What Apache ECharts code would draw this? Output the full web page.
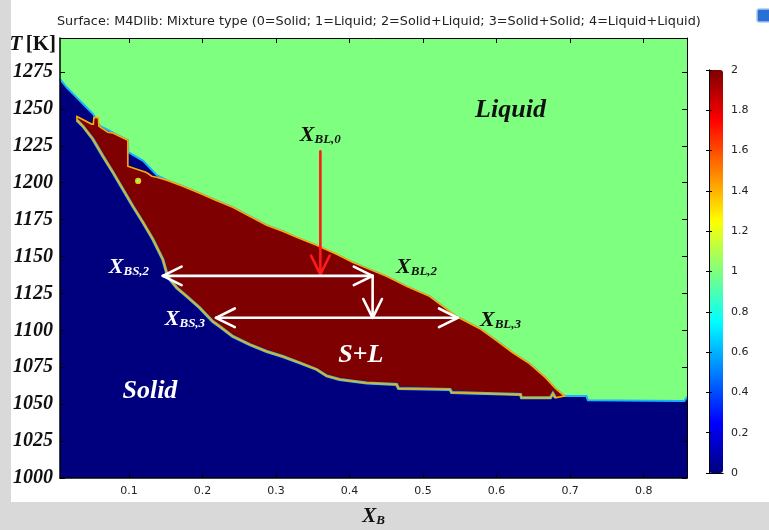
<!DOCTYPE html>
<html>
<head>
<meta charset="utf-8">
<script src="https://cdn.jsdelivr.net/npm/echarts@6/dist/echarts.min.js"></script>
<style>
  html, body { margin: 0; padding: 0; background: #d9d9d9; }
  #chart { width: 769px; height: 530px; }
</style>
</head>
<body>
<div id="chart"></div>
<script>
// Axis extents of the phase map
const xRange = [0.006, 0.859];
const tRange = [1000, 1298];

// Tick values
const xTicks = [0.1, 0.2, 0.3, 0.4, 0.5, 0.6, 0.7, 0.8];
const tTicks = [1000, 1025, 1050, 1075, 1100, 1125, 1150, 1175, 1200, 1225, 1250, 1275];
const barTicks = [0, 0.2, 0.4, 0.6, 0.8, 1, 1.2, 1.4, 1.6, 1.8, 2];

// Mixture type codes
const LIQUID = 1, SOLID = 0, SOLID_LIQUID = 2;

// Upper edge of the solid field, left of the two-phase wedge  [X_B, T]
const solidCap = [
  [0.006, 1270.2], [0.0150, 1264.6], [0.0285, 1257.8], [0.0398, 1252.1],
  [0.0511, 1246.5], [0.0602, 1238.5], [0.0738, 1235.1], [0.0847, 1232.2],
  [0.0983, 1228.8], [0.0990, 1220.7], [0.1191, 1214.8], [0.1377, 1205.1]
];

// Liquidus: upper edge of the S+L field  [X_B, T]
const liquidus = [
  [0.1513, 1201.7], [0.1730, 1197.6], [0.1961, 1192.9], [0.2179, 1188.1],
  [0.2410, 1183.4], [0.2641, 1177.3], [0.2872, 1171.2], [0.3090, 1167.1],
  [0.3280, 1163.0], [0.3552, 1157.6], [0.3824, 1151.5], [0.4041, 1146.1],
  [0.4272, 1141.3], [0.4503, 1136.6], [0.4775, 1129.8], [0.5088, 1123.0],
  [0.5455, 1109.4], [0.5767, 1101.3], [0.5998, 1093.1], [0.6216, 1085.0],
  [0.6447, 1077.5], [0.6665, 1068.0], [0.6800, 1060.6], [0.6923, 1055.5]
];

// Solid / liquid edge right of the wedge  [X_B, T]
const solidTail = [
  [0.7222, 1055.5], [0.7242, 1052.6], [0.8554, 1052.1], [0.859, 1055.0]
];

// Top-left corner of the S+L field  [X_B, T]
const wedgeHead = [
  [0.0290, 1244.8], [0.0489, 1239.7], [0.0514, 1239.7], [0.0521, 1244.1],
  [0.0582, 1244.1], [0.0589, 1238.3], [0.0616, 1237.3], [0.0711, 1234.2],
  [0.0779, 1233.6], [0.0983, 1228.8], [0.0983, 1211.2], [0.1237, 1206.9],
  [0.1309, 1204.4], [0.1377, 1203.7]
];

// Solidus and lower edge of the S+L field, right to left  [X_B, T]
const solidus = [
  [0.6800, 1054.3], [0.6766, 1057.2], [0.6732, 1054.3], [0.6338, 1054.3],
  [0.6325, 1056.5], [0.5387, 1057.9], [0.5366, 1059.9], [0.4666, 1060.6],
  [0.4639, 1063.3], [0.4231, 1064.3], [0.3864, 1066.7], [0.3688, 1069.1],
  [0.3552, 1073.5], [0.3321, 1078.0], [0.3090, 1082.3], [0.2872, 1085.7],
  [0.2641, 1090.4], [0.2410, 1095.9], [0.2233, 1102.6], [0.2138, 1106.0],
  [0.1961, 1115.2], [0.1785, 1123.0], [0.1649, 1128.8], [0.1554, 1134.5],
  [0.1513, 1138.6], [0.1458, 1148.1], [0.1323, 1161.7], [0.1187, 1173.2],
  [0.1051, 1184.1], [0.0915, 1195.6], [0.0779, 1207.1], [0.0643, 1218.0],
  [0.0507, 1229.5], [0.0371, 1238.3], [0.0290, 1242.4]
];

// Isolated liquid cell inside the wedge
const liquidSpot = [[0.1123, 1201.2]];

// Cooling path of the initial melt: [x1, T1, x2, T2, headAtStart, headAtEnd]
const coolingPath = [[0.3602, 1221.2, 0.3602, 1137.9, 0, 1]];

// Tie lines and the step between them
const tieLines = [
  [0.1458, 1136.9, 0.4313, 1136.9, 1, 1],
  [0.4313, 1136.9, 0.4313, 1108.5, 0, 1],
  [0.2182, 1108.5, 0.5472, 1108.5, 1, 1]
];

// Labelled compositions: [subscript, X_B, T]
const compLabels = [
  ['BL,0', 0.3602, 1232.2],
  ['BS,2', 0.0998, 1142.7],
  ['BL,2', 0.4911, 1142.7],
  ['BS,3', 0.1760, 1107.4],
  ['BL,3', 0.6053, 1106.7]
];

// Phase field names: [text, X_B, T]
const fieldLabels = [
  ['Liquid', 0.6189, 1249.2],
  ['Solid', 0.1283, 1058.5],
  ['S+L', 0.4151, 1083.0]
];

const jet = ['#00007f', '#0000ff', '#007fff', '#00ffff', '#7fff7f',
             '#ffff00', '#ff7f00', '#ff0000', '#7f0000'];

const serif = "'Liberation Serif', 'DejaVu Serif', serif";
const sans = "'DejaVu Sans', sans-serif";

// Field outlines, drawn in order: liquid background, solid, two-phase
const fields = [
  {
    code: LIQUID,
    outline: [[xRange[0], tRange[0]], [xRange[1], tRange[0]], [xRange[1], tRange[1]], [xRange[0], tRange[1]]],
    edges: []
  },
  {
    code: SOLID,
    outline: solidCap.concat(liquidus, solidTail, [[xRange[1], tRange[0]], [xRange[0], tRange[0]]]),
    edges: [{ pts: solidCap.concat(liquidus, solidTail), color: '#18b4ff', width: 2, closed: false }]
  },
  {
    code: SOLID_LIQUID,
    outline: wedgeHead.concat(liquidus, solidus),
    edges: [
      { pts: solidus, color: '#22c8ff', width: 3, closed: false },
      { pts: wedgeHead.concat(liquidus, solidus), color: '#ffaa00', width: 1.6, closed: true }
    ]
  }
];

function project(api, pts) {
  return pts.map(function (p) { return api.coord(p); });
}

function renderField(params, api) {
  const f = fields[params.dataIndex];
  const children = [{
    type: 'polygon',
    shape: { points: project(api, f.outline) },
    style: { fill: api.visual('color') }
  }];
  f.edges.forEach(function (e) {
    children.push({
      type: e.closed ? 'polygon' : 'polyline',
      shape: { points: project(api, e.pts) },
      style: { stroke: e.color, lineWidth: e.width, fill: null, lineJoin: 'miter' }
    });
  });
  return { type: 'group', children: children };
}

function renderArrow(params, api) {
  const a = api.coord([api.value(0), api.value(1)]);
  const b = api.coord([api.value(2), api.value(3)]);
  const style = { stroke: api.visual('color'), lineWidth: 2.6, fill: null, lineCap: 'round', lineJoin: 'round' };
  const children = [{ type: 'line', shape: { x1: a[0], y1: a[1], x2: b[0], y2: b[1] }, style: style }];
  function head(tip, from) {
    const ang = Math.atan2(tip[1] - from[1], tip[0] - from[0]);
    const len = 21, spread = 0.46;
    return {
      type: 'polyline',
      shape: { points: [
        [tip[0] - len * Math.cos(ang - spread), tip[1] - len * Math.sin(ang - spread)],
        tip,
        [tip[0] - len * Math.cos(ang + spread), tip[1] - len * Math.sin(ang + spread)]
      ] },
      style: style
    };
  }
  if (api.value(4)) children.push(head(a, b));
  if (api.value(5)) children.push(head(b, a));
  return { type: 'group', children: children };
}

const compRich = {
  x: { fontFamily: serif, fontSize: 22, fontWeight: 'bold', fontStyle: 'italic', lineHeight: 22, padding: [0, 0, 3, 0], verticalAlign: 'top' },
  s: { fontFamily: serif, fontSize: 13, fontWeight: 'bold', fontStyle: 'italic', lineHeight: 13, verticalAlign: 'bottom' }
};

const plain = function (v) { return String(v); };

const chart = echarts.init(document.getElementById('chart'), null, { renderer: 'canvas' });

chart.setOption({
  backgroundColor: '#d9d9d9',
  animation: false,
  title: {
    text: 'Surface: M4Dlib: Mixture type (0=Solid; 1=Liquid; 2=Solid+Liquid; 3=Solid+Solid; 4=Liquid+Liquid)',
    left: 57,
    top: 15,
    padding: 0,
    textStyle: { fontFamily: sans, fontSize: 12.8, fontWeight: 'normal', color: '#222' }
  },
  graphic: [
    { type: 'rect', z: -10, shape: { x: 11, y: 0, width: 758, height: 502 }, style: { fill: '#ffffff' } },
    { type: 'rect', z: -5, shape: { x: 757, y: 9, width: 14, height: 13, r: 2 },
      style: { fill: '#2a6fd6', stroke: '#a9c8ee', lineWidth: 1.5 } }
  ],
  grid: [
    { left: 60, top: 38, width: 627, height: 440, outerBoundsMode: 'none', containLabel: false },
    { left: 709, top: 70, width: 14, height: 403, outerBoundsMode: 'none', containLabel: false }
  ],
  visualMap: {
    type: 'continuous',
    seriesIndex: 0,
    dimension: 0,
    min: 0,
    max: 2,
    calculable: false,
    hoverLink: false,
    left: 709,
    top: 70,
    itemWidth: 14,
    itemHeight: 403,
    padding: 0,
    text: null,
    inRange: { color: jet }
  },
  xAxis: [
    {
      gridIndex: 0, type: 'value', min: xRange[0], max: xRange[1], position: 'bottom', z: 10,
      name: '{x|X}{s|B}', nameLocation: 'middle', nameGap: 28, nameMoveOverlap: false,
      nameTextStyle: { verticalAlign: 'top', rich: {
        x: { fontFamily: serif, fontSize: 21, fontWeight: 'bold', fontStyle: 'italic', lineHeight: 21, padding: [0, 0, 3, 0], verticalAlign: 'top', color: '#111' },
        s: { fontFamily: serif, fontSize: 13, fontWeight: 'bold', fontStyle: 'italic', lineHeight: 13, verticalAlign: 'bottom', color: '#111' }
      } },
      axisLine: { lineStyle: { color: '#000', width: 1.5 } },
      axisTick: { inside: true, length: 5, customValues: xTicks, lineStyle: { color: '#000' } },
      axisLabel: { customValues: xTicks, formatter: plain, fontFamily: sans, fontSize: 11, color: '#222', margin: 8 },
      splitLine: { show: false }
    },
    {
      gridIndex: 0, type: 'value', min: xRange[0], max: xRange[1], position: 'top', z: 10,
      axisLine: { lineStyle: { color: '#000', width: 1 } },
      axisTick: { inside: true, length: 5, customValues: xTicks, lineStyle: { color: '#000' } },
      axisLabel: { show: false },
      splitLine: { show: false }
    },
    {
      gridIndex: 1, type: 'value', min: 0, max: 1, position: 'bottom', z: 10,
      axisLine: { lineStyle: { color: '#000', width: 1 } },
      axisTick: { show: false }, axisLabel: { show: false }, splitLine: { show: false }
    },
    {
      gridIndex: 1, type: 'value', min: 0, max: 1, position: 'top', z: 10,
      axisLine: { lineStyle: { color: '#000', width: 1 } },
      axisTick: { show: false }, axisLabel: { show: false }, splitLine: { show: false }
    }
  ],
  yAxis: [
    {
      gridIndex: 0, type: 'value', min: tRange[0], max: tRange[1], position: 'left', z: 10,
      name: '{t|T} {k|[K]}', nameLocation: 'end', nameGap: -7,
      nameTextStyle: { align: 'right', verticalAlign: 'middle', padding: [0, 4, 0, 0], rich: {
        t: { fontFamily: serif, fontSize: 21, fontWeight: 'bold', fontStyle: 'italic', color: '#111' },
        k: { fontFamily: serif, fontSize: 21, fontWeight: 'bold', color: '#111' }
      } },
      axisLine: { lineStyle: { color: '#000', width: 1.5 } },
      axisTick: { inside: true, length: 5, customValues: tTicks, lineStyle: { color: '#000' } },
      axisLabel: { customValues: tTicks, formatter: plain, fontFamily: serif, fontSize: 20, fontWeight: 'bold', fontStyle: 'italic', color: '#111', margin: 7 },
      splitLine: { show: false }
    },
    {
      gridIndex: 0, type: 'value', min: tRange[0], max: tRange[1], position: 'right', z: 10,
      axisLine: { lineStyle: { color: '#000', width: 1 } },
      axisTick: { inside: true, length: 5, customValues: tTicks, lineStyle: { color: '#000' } },
      axisLabel: { show: false },
      splitLine: { show: false }
    },
    {
      gridIndex: 1, type: 'value', min: 0, max: 2, position: 'right', z: 10,
      axisLine: { lineStyle: { color: '#000', width: 1 } },
      axisTick: { inside: true, length: 3, customValues: barTicks, lineStyle: { color: '#000' } },
      axisLabel: { customValues: barTicks, formatter: plain, fontFamily: sans, fontSize: 11, color: '#222', margin: 8 },
      splitLine: { show: false }
    },
    {
      gridIndex: 1, type: 'value', min: 0, max: 2, position: 'left', z: 10,
      axisLine: { lineStyle: { color: '#000', width: 1 } },
      axisTick: { inside: true, length: 3, customValues: barTicks, lineStyle: { color: '#000' } },
      axisLabel: { show: false },
      splitLine: { show: false }
    }
  ],
  series: [
    {
      name: 'Mixture type',
      type: 'custom',
      xAxisIndex: 0, yAxisIndex: 0,
      renderItem: renderField,
      data: fields.map(function (f) { return [f.code]; }),
      z: 1,
      silent: true
    },
    {
      name: 'Liquid cell',
      type: 'scatter',
      xAxisIndex: 0, yAxisIndex: 0,
      data: liquidSpot,
      symbol: 'circle',
      symbolSize: 5,
      itemStyle: { color: '#7fff7f', borderColor: '#ffbb00', borderWidth: 1.2, opacity: 1 },
      z: 3,
      silent: true
    },
    {
      name: 'Cooling',
      type: 'custom',
      xAxisIndex: 0, yAxisIndex: 0,
      renderItem: renderArrow,
      data: coolingPath,
      itemStyle: { color: '#ff1a1a' },
      z: 4,
      silent: true
    },
    {
      name: 'Tie lines',
      type: 'custom',
      xAxisIndex: 0, yAxisIndex: 0,
      renderItem: renderArrow,
      data: tieLines,
      itemStyle: { color: '#ffffff' },
      z: 4,
      silent: true
    },
    {
      name: 'Compositions',
      type: 'scatter',
      xAxisIndex: 0, yAxisIndex: 0,
      symbolSize: 0,
      itemStyle: { opacity: 1 },
      z: 5,
      silent: true,
      data: compLabels.map(function (c) {
        const onSolidSide = c[0].charAt(1) === 'S';
        const color = onSolidSide ? '#ffffff' : '#111111';
        return {
          value: [c[1], c[2]],
          label: {
            show: true, position: 'inside', opacity: 1,
            formatter: '{x|X}{s|' + c[0] + '}',
            rich: {
              x: Object.assign({ color: color }, compRich.x),
              s: Object.assign({ color: color }, compRich.s)
            }
          }
        };
      })
    },
    {
      name: 'Fields',
      type: 'scatter',
      xAxisIndex: 0, yAxisIndex: 0,
      symbolSize: 0,
      itemStyle: { opacity: 1 },
      z: 5,
      silent: true,
      data: fieldLabels.map(function (f) {
        return {
          value: [f[1], f[2]],
          label: {
            show: true, position: 'inside', formatter: f[0], opacity: 1,
            fontFamily: serif, fontSize: 26, fontWeight: 'bold', fontStyle: 'italic',
            color: f[0] === 'Liquid' ? '#111111' : '#ffffff'
          }
        };
      })
    }
  ]
});
</script>
</body>
</html>
